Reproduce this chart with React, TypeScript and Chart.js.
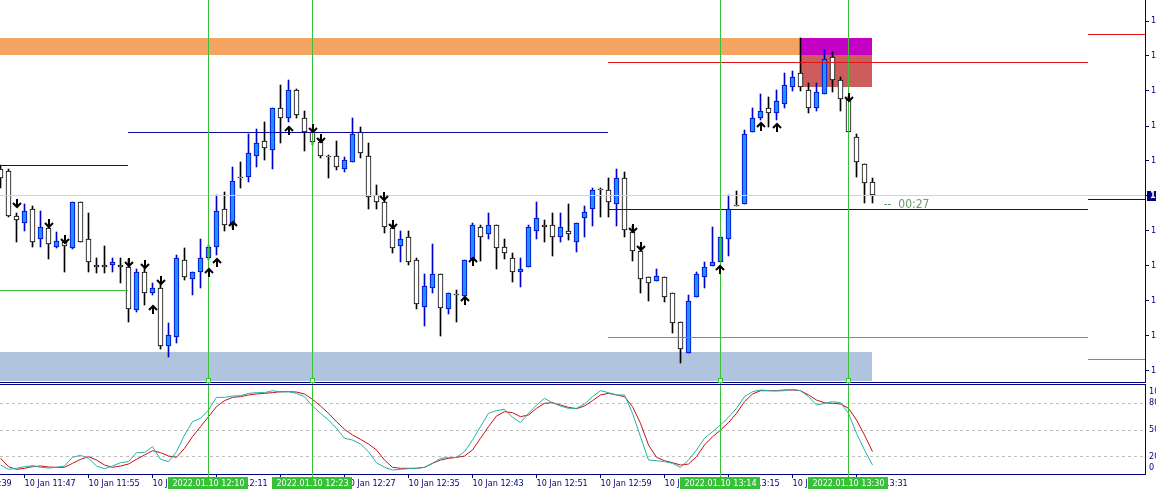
import React, { useEffect, useRef } from "react";
import { Chart, registerables } from "chart.js";

Chart.register(...registerables);

// ---------- DATA ----------
// M1 candles, 10 Jan 2022 11:44 ... 13:33 (bar index 0 .. 109)
const barOpen = [
  1.13212, 1.1321, 1.13165, 1.13158, 1.13172, 1.13142, 1.13153, 1.13134, 1.13139, 1.13133,
  1.13179, 1.13142, 1.13116, 1.13116, 1.13116, 1.13116, 1.13114, 1.13071, 1.13109, 1.13088,
  1.13093, 1.13035, 1.13044, 1.13121, 1.13102, 1.13109, 1.13123, 1.13134, 1.13172, 1.13156,
  1.13203, 1.13204, 1.13225, 1.1324, 1.13231, 1.13273, 1.13263, 1.13291, 1.13263, 1.13249,
  1.13239, 1.13224, 1.13225, 1.13212, 1.13219, 1.13249, 1.13225, 1.13186, 1.13179, 1.13153,
  1.13135, 1.13144, 1.13121, 1.13074, 1.13093, 1.13107, 1.13072, 1.13086, 1.13085, 1.13122,
  1.13154, 1.13147, 1.13156, 1.13134, 1.13123, 1.13109, 1.13114, 1.1315, 1.13156, 1.13156,
  1.13144, 1.1315, 1.13139, 1.13163, 1.13172, 1.13191, 1.13191, 1.13177, 1.13203, 1.13149,
  1.1313, 1.13104, 1.131, 1.13104, 1.13088, 1.13059, 1.13028, 1.13084, 1.13104, 1.13115,
  1.13119, 1.13142, 1.13175, 1.13177, 1.13249, 1.13263, 1.13273, 1.13268, 1.13277, 1.13294,
  1.13308, 1.13291, 1.13273, 1.13287, 1.13324, 1.13301, 1.13282, 1.13244, 1.13217, 1.13199,
];
const barHigh = [
  1.13216, 1.13212, 1.13168, 1.13177, 1.13175, 1.1317, 1.13156, 1.13149, 1.13141, 1.13179,
  1.13179, 1.13168, 1.13123, 1.13135, 1.13123, 1.13123, 1.13122, 1.13112, 1.13113, 1.13098,
  1.13099, 1.13058, 1.13126, 1.13133, 1.13109, 1.13142, 1.13136, 1.13186, 1.13189, 1.13214,
  1.13219, 1.13247, 1.13252, 1.13259, 1.13273, 1.13296, 1.13301, 1.13292, 1.1327, 1.13253,
  1.13243, 1.13226, 1.1324, 1.13224, 1.13263, 1.13254, 1.13238, 1.13196, 1.13183, 1.13157,
  1.1315, 1.1315, 1.13123, 1.13107, 1.13137, 1.13107, 1.13088, 1.13091, 1.13121, 1.13158,
  1.13156, 1.13168, 1.13156, 1.13142, 1.13128, 1.13123, 1.13156, 1.13179, 1.13161, 1.13168,
  1.13168, 1.13177, 1.13158, 1.13175, 1.13193, 1.13193, 1.13203, 1.13212, 1.13209, 1.13155,
  1.13135, 1.13104, 1.13112, 1.13104, 1.13088, 1.13059, 1.13086, 1.13109, 1.13119, 1.13154,
  1.13144, 1.13186, 1.1319, 1.13251, 1.13273, 1.13287, 1.13284, 1.13291, 1.13308, 1.1331,
  1.13343, 1.13298, 1.13298, 1.13331, 1.13329, 1.13304, 1.13285, 1.13247, 1.13217, 1.13203,
];
const barLow = [
  1.13193, 1.13164, 1.13139, 1.1315, 1.13134, 1.13134, 1.13122, 1.13133, 1.13109, 1.13132,
  1.13139, 1.13109, 1.13108, 1.13108, 1.13109, 1.13098, 1.13059, 1.13069, 1.13076, 1.13086,
  1.13032, 1.13024, 1.13038, 1.13101, 1.13086, 1.13093, 1.13121, 1.13126, 1.1315, 1.13153,
  1.13193, 1.13199, 1.13214, 1.13221, 1.13212, 1.13238, 1.13259, 1.13263, 1.1323, 1.13236,
  1.13223, 1.13203, 1.13211, 1.13209, 1.13219, 1.13223, 1.13172, 1.13172, 1.13148, 1.13128,
  1.13119, 1.13116, 1.13072, 1.13055, 1.13088, 1.13045, 1.13067, 1.13059, 1.13083, 1.13122,
  1.1312, 1.13142, 1.13112, 1.13122, 1.13099, 1.13094, 1.13114, 1.13142, 1.13139, 1.13125,
  1.13139, 1.13141, 1.13129, 1.13144, 1.13155, 1.13164, 1.13164, 1.13155, 1.13144, 1.1312,
  1.13088, 1.1308, 1.131, 1.13079, 1.13048, 1.13018, 1.13028, 1.13084, 1.13093, 1.13115,
  1.13119, 1.13125, 1.13175, 1.13177, 1.13249, 1.13261, 1.13254, 1.13261, 1.13273, 1.1329,
  1.1329, 1.13268, 1.1327, 1.13287, 1.13289, 1.1327, 1.13249, 1.13204, 1.13178, 1.13178,
];
const barClose = [
  1.13203, 1.13165, 1.13161, 1.1317, 1.13139, 1.13154, 1.13137, 1.1314, 1.13135, 1.13179,
  1.13139, 1.13119, 1.13114, 1.13114, 1.13119, 1.13114, 1.13072, 1.13109, 1.13088, 1.13093,
  1.13035, 1.13046, 1.13123, 1.13104, 1.13109, 1.13123, 1.13134, 1.1317, 1.13156, 1.132,
  1.13203, 1.13228, 1.13238, 1.13233, 1.13273, 1.13263, 1.13291, 1.13266, 1.13249, 1.13239,
  1.13225, 1.13224, 1.13214, 1.13221, 1.13247, 1.13228, 1.13184, 1.13179, 1.13154, 1.13133,
  1.13142, 1.13119, 1.13077, 1.13095, 1.13107, 1.13073, 1.13088, 1.13086, 1.13121, 1.13156,
  1.13144, 1.13156, 1.13133, 1.13128, 1.13109, 1.13112, 1.13154, 1.13163, 1.13154, 1.13144,
  1.13154, 1.13147, 1.13158, 1.13169, 1.13191, 1.13191, 1.13179, 1.13203, 1.13151, 1.1313,
  1.13102, 1.13098, 1.13105, 1.13084, 1.13058, 1.13032, 1.1308, 1.13107, 1.13114, 1.13119,
  1.13144, 1.13172, 1.13175, 1.13247, 1.13263, 1.1327, 1.13268, 1.1328, 1.13296, 1.13304,
  1.13294, 1.13273, 1.13289, 1.13322, 1.13301, 1.13282, 1.13249, 1.13219, 1.13198, 1.13186,
];

// Stochastic oscillator (main %K and signal %D)
const stochMain = [
  10.1, 5.2, 6.4, 8.2, 9.4, 7.5, 6.7, 7.5, 9.0, 18.7,
  21.0, 17.6, 9.0, 6.0, 9.0, 12.7, 13.9, 24.0, 24.0, 30.7,
  16.5, 13.9, 25.1, 43.8, 58.8, 62.5, 71.9, 86.1, 86.1, 87.6,
  88.0, 90.6, 91.4, 91.4, 93.6, 92.1, 92.5, 90.6, 86.9, 76.4,
  68.2, 60.7, 51.3, 40.1, 38.2, 33.7, 25.1, 12.7, 7.5, 4.5,
  5.2, 6.0, 6.4, 7.5, 12.0, 17.6, 18.4, 18.7, 25.1, 38.2,
  53.2, 68.2, 71.2, 72.7, 63.7, 57.7, 68.2, 77.5, 85.0, 80.1,
  76.4, 73.8, 73.8, 78.7, 86.9, 93.6, 91.4, 88.8, 88.8, 68.2,
  41.9, 15.7, 15.0, 13.9, 12.0, 7.5, 15.7, 27.0, 40.1, 47.6,
  55.1, 63.7, 73.8, 86.9, 92.5, 94.4, 93.6, 93.3, 93.6, 95.1,
  93.6, 86.9, 77.5, 79.4, 81.3, 80.1, 68.2, 45.7, 27.0, 10.1,
];
const stochSignal = [
  17.6, 8.2, 5.2, 6.4, 8.2, 9.0, 7.9, 7.5, 7.5, 12.0,
  16.5, 19.5, 15.7, 10.1, 7.5, 9.0, 11.2, 16.5, 21.3, 26.2,
  24.0, 20.2, 18.7, 28.8, 41.9, 53.2, 64.4, 75.7, 82.4, 86.1,
  86.9, 88.8, 89.9, 90.6, 91.4, 92.5, 92.5, 92.1, 89.9, 83.9,
  76.4, 68.2, 58.8, 50.2, 43.8, 39.0, 33.7, 27.0, 15.7, 7.5,
  6.4, 6.4, 6.4, 7.5, 12.0, 15.7, 17.6, 18.7, 20.2, 27.0,
  40.1, 53.2, 65.2, 70.0, 68.9, 64.4, 66.3, 73.8, 79.4, 80.1,
  77.5, 74.9, 73.4, 76.4, 82.4, 88.8, 90.6, 88.8, 86.9, 75.7,
  56.9, 32.6, 18.7, 15.0, 12.7, 10.1, 11.2, 19.5, 32.6, 41.9,
  49.4, 57.7, 68.2, 81.3, 89.9, 93.6, 93.6, 93.6, 94.4, 94.4,
  93.6, 88.8, 83.1, 80.1, 79.4, 78.7, 73.8, 60.7, 43.8, 25.1,
];
const stochLevels = [20, 50, 80];
const stochAxisValues = [100, 80, 50, 20, 0];
const stochAxisLabels = ["100", "80", "50", "20", "0"];

// Time axis
const timeTickBars = [-5, 3, 11, 19, 27, 35, 43, 51, 59, 67, 75, 83, 91, 99, 107];
const timeTickLabels = [
  "10 Jan 11:39", "10 Jan 11:47", "10 Jan 11:55", "10 Jan 12:03", "10 Jan 12:11",
  "10 Jan 12:19", "10 Jan 12:27", "10 Jan 12:35", "10 Jan 12:43", "10 Jan 12:51",
  "10 Jan 12:59", "10 Jan 13:07", "10 Jan 13:15", "10 Jan 13:23", "10 Jan 13:31",
];

// Price axis ticks
const priceTicks = [
  1.1301, 1.13045, 1.1308, 1.13115, 1.1315, 1.13185, 1.1322, 1.13255, 1.1329, 1.13325, 1.1336,
];
const PRICE_MIN = 1.13;
const PRICE_MAX = 1.13381;

// Supply / demand zones
const zoneFrom = [-8, -8, 100, 100];
const zoneTo = [109, 100, 109, 109];
const zoneTop = [1.13029, 1.13343, 1.13343, 1.13326];
const zoneBottom = [1.1299, 1.13326, 1.13326, 1.13294];

// Hourly pivot levels
const pivotFrom = [-8, 16, 76, 136];
const pivotTo = [16, 76, 136, 150];
const pivotP = [1.13216, 1.13249, 1.13172, 1.13182];
const pivotR1: (number | null)[] = [null, null, 1.13319, 1.13347];
const pivotS1: (number | null)[] = [1.13091, null, 1.13044, 1.13022];

// Vertical time markers
const markerBars = [26, 39, 90, 106];
const markerLabels = ["2022.01.10 12:10", "2022.01.10 12:23", "2022.01.10 13:14", "2022.01.10 13:30"];

// Signal arrows (tip price)
const downArrowBars = [2, 6, 8, 16, 18, 20, 39, 40, 48, 49, 79, 80, 106];
const downArrowPrices = [
  1.13173, 1.13153, 1.13137, 1.13114, 1.13112, 1.13096, 1.13248, 1.13238, 1.1318, 1.13152, 1.13148, 1.1313, 1.13279,
];
const upArrowBars = [19, 26, 27, 29, 36, 58, 59, 90, 95, 97];
const upArrowPrices = [
  1.13076, 1.13113, 1.13123, 1.1316, 1.13255, 1.13085, 1.13124, 1.13116, 1.13259, 1.13258,
];

// Candle timer
const timerBar = 110.4;
const timerPrice = 1.13176;
const timerText = "--  00:27";

// ---------- STYLE ----------
const NAVY = "#000080";
const FONT = '"DejaVu Sans Condensed", "DejaVu Sans", sans-serif';
const BULL_FILL = "#1E90FF";
const BULL_LINE = "#0000CD";
const BEAR_FILL = "#FFFFFF";
const BEAR_LINE = "#000000";
const ZONE_COLORS = ["#B0C4DE", "#F4A460", "#C400C4", "#CD5C5C"];
const PIVOT_P_COLOR = "#0A0A9A";
const PIVOT_R_COLOR = "#E01414";
const PIVOT_S_COLOR = "#3CB83C";
const MARKER_COLOR = "#38C038";
const BID_COLOR = "#D2D2D2";
const STOCH_MAIN_COLOR = "#20B2AA";
const STOCH_SIGNAL_COLOR = "#C81010";

const X_MIN = -0.0625;
const X_MAX = X_MIN + 1145 / 8;

const isBull = (i: number) => barClose[i] > barOpen[i];

function drawArrow(ctx: CanvasRenderingContext2D, cx: number, tip: number, up: boolean) {
  const d = up ? 1 : -1;
  ctx.save();
  ctx.strokeStyle = "#000";
  ctx.lineWidth = 2;
  ctx.lineCap = "butt";
  ctx.beginPath();
  ctx.moveTo(cx, tip + d * 1);
  ctx.lineTo(cx, tip + d * 9);
  ctx.stroke();
  ctx.beginPath();
  ctx.moveTo(cx - 4, tip + d * 5);
  ctx.lineTo(cx, tip + d * 1);
  ctx.lineTo(cx + 4, tip + d * 5);
  ctx.stroke();
  ctx.restore();
}

const mainDecor = {
  id: "mainDecor",
  beforeDatasetsDraw(chart: any) {
    const { ctx, chartArea: a, scales } = chart;
    const x = scales.x;
    const y = scales.y;
    ctx.save();
    ctx.beginPath();
    ctx.rect(a.left, a.top, a.right - a.left, a.bottom - a.top);
    ctx.clip();
    zoneFrom.forEach((f, k) => {
      const x0 = Math.floor(x.getPixelForValue(f));
      const x1 = Math.floor(x.getPixelForValue(zoneTo[k]));
      const y0 = Math.round(y.getPixelForValue(zoneTop[k]));
      const y1 = Math.round(y.getPixelForValue(zoneBottom[k]));
      ctx.fillStyle = ZONE_COLORS[k];
      ctx.fillRect(x0, y0, x1 - x0, y1 - y0);
    });
    ctx.restore();
  },
  afterDatasetsDraw(chart: any) {
    const { ctx, chartArea: a, scales } = chart;
    const x = scales.x;
    const y = scales.y;
    ctx.save();
    ctx.beginPath();
    ctx.rect(a.left, a.top, a.right - a.left, a.bottom - a.top);
    ctx.clip();
    // bid line
    const bidRow = Math.round(y.getPixelForValue(barClose[barClose.length - 1]));
    ctx.fillStyle = BID_COLOR;
    ctx.fillRect(a.left, bidRow, a.right - a.left, 1);
    // pivot lines
    const hline = (p: number | null, k: number, color: string) => {
      if (p === null) return;
      const x0 = Math.floor(x.getPixelForValue(pivotFrom[k]));
      const x1 = Math.floor(x.getPixelForValue(pivotTo[k]));
      const row = Math.round(y.getPixelForValue(p));
      ctx.fillStyle = color;
      ctx.fillRect(x0, row, x1 - x0, 1);
    };
    pivotFrom.forEach((_, k) => {
      hline(pivotP[k], k, PIVOT_P_COLOR);
      hline(pivotR1[k], k, PIVOT_R_COLOR);
      hline(pivotS1[k], k, PIVOT_S_COLOR);
    });
    ctx.restore();
    // vertical markers
    ctx.fillStyle = MARKER_COLOR;
    markerBars.forEach((b) => {
      const col = Math.floor(x.getPixelForValue(b));
      ctx.fillRect(col, 0, 1, chart.height);
    });
    // arrows
    downArrowBars.forEach((b, k) => {
      drawArrow(ctx, Math.round(x.getPixelForValue(b)), Math.round(y.getPixelForValue(downArrowPrices[k])), false);
    });
    upArrowBars.forEach((b, k) => {
      drawArrow(ctx, Math.round(x.getPixelForValue(b)), Math.round(y.getPixelForValue(upArrowPrices[k])), true);
    });
    // timer
    ctx.fillStyle = "#669A6A";
    ctx.font = `12px ${FONT}`;
    ctx.textAlign = "left";
    ctx.textBaseline = "middle";
    ctx.fillText(timerText, x.getPixelForValue(timerBar), y.getPixelForValue(timerPrice));
  },
  afterDraw(chart: any) {
    const { ctx, chartArea: a, scales } = chart;
    const x = scales.x;
    const y = scales.y;
    ctx.save();
    // bottom border
    ctx.fillStyle = NAVY;
    ctx.fillRect(0, a.bottom + 1, a.right + 1, 1);
    // anchor squares of markers
    markerBars.forEach((b) => {
      const col = Math.floor(x.getPixelForValue(b));
      ctx.fillStyle = "#fff";
      ctx.fillRect(col - 2, a.bottom - 3, 5, 5);
      ctx.strokeStyle = MARKER_COLOR;
      ctx.lineWidth = 1;
      ctx.strokeRect(col - 1.5, a.bottom - 2.5, 4, 4);
    });
    // current price box
    const last = barClose[barClose.length - 1];
    const row = Math.round(y.getPixelForValue(last));
    ctx.fillStyle = NAVY;
    ctx.fillRect(a.right + 2, row - 4, 20, 10);
    ctx.fillStyle = "#fff";
    ctx.font = `bold 9px ${FONT}`;
    ctx.textAlign = "left";
    ctx.textBaseline = "middle";
    ctx.fillText(last.toFixed(5), a.right + 5, row + 1);
    ctx.restore();
  },
};

const stochDecor = {
  id: "stochDecor",
  beforeDatasetsDraw(chart: any) {
    const { ctx, chartArea: a, scales } = chart;
    const y = scales.y;
    ctx.save();
    ctx.strokeStyle = "#C0C0C0";
    ctx.lineWidth = 1;
    ctx.setLineDash([3, 3]);
    stochLevels.forEach((v) => {
      const r = Math.round(y.getPixelForValue(v)) + 0.5;
      ctx.beginPath();
      ctx.moveTo(a.left, r);
      ctx.lineTo(a.right, r);
      ctx.stroke();
    });
    ctx.restore();
  },
  afterDatasetsDraw(chart: any) {
    const { ctx, chartArea: a, scales } = chart;
    const x = scales.x;
    ctx.save();
    ctx.fillStyle = MARKER_COLOR;
    markerBars.forEach((b) => {
      const col = Math.floor(x.getPixelForValue(b));
      ctx.fillRect(col, 0, 1, a.bottom + 4);
    });
    ctx.restore();
  },
  afterDraw(chart: any) {
    const { ctx, chartArea: a, scales } = chart;
    const x = scales.x;
    const y = scales.y;
    ctx.save();
    // top border and right axis line
    ctx.fillStyle = NAVY;
    ctx.fillRect(0, a.top - 1, a.right + 1, 1);
    ctx.fillRect(a.right, a.top - 1, 1, a.bottom - a.top + 2);
    // right axis labels
    ctx.font = `9px ${FONT}`;
    ctx.textAlign = "left";
    stochAxisValues.forEach((v, k) => {
      let py = y.getPixelForValue(v);
      if (v === 100) {
        ctx.textBaseline = "top";
        py += 2;
      } else if (v === 0) {
        ctx.textBaseline = "bottom";
        py -= 2;
      } else {
        ctx.textBaseline = "middle";
      }
      ctx.fillStyle = NAVY;
      ctx.fillText(stochAxisLabels[k], a.right + 4, py);
    });
    // marker labels on time axis
    markerBars.forEach((b, k) => {
      const col = Math.floor(x.getPixelForValue(b));
      ctx.fillStyle = MARKER_COLOR;
      ctx.fillRect(col - 40, a.bottom + 3, 80, 12);
      ctx.fillStyle = "#fff";
      ctx.textAlign = "center";
      ctx.textBaseline = "middle";
      ctx.fillText(markerLabels[k], col + 0.5, a.bottom + 9.5);
    });
    ctx.restore();
  },
};

export default function App() {
  const mainRef = useRef<HTMLCanvasElement | null>(null);
  const stochRef = useRef<HTMLCanvasElement | null>(null);

  useEffect(() => {
    document.body.style.margin = "0";
    if (!mainRef.current || !stochRef.current) return;

    const bodies = barOpen.map((o, i) => ({ x: i, y: [o, barClose[i]] }));
    const wicks = barLow.map((l, i) => ({ x: i, y: [l, barHigh[i]] }));

    const mainChart = new Chart(mainRef.current, {
      type: "bar",
      data: {
        datasets: [
          {
            data: bodies as any,
            order: 0,
            grouped: false,
            barThickness: 5,
            borderWidth: 1,
            borderSkipped: false,
            minBarLength: 1,
            backgroundColor: (c: any) => (isBull(c.dataIndex) ? BULL_FILL : BEAR_FILL),
            borderColor: (c: any) => (isBull(c.dataIndex) ? BULL_LINE : BEAR_LINE),
          } as any,
          {
            data: wicks as any,
            order: 1,
            grouped: false,
            barThickness: 1,
            borderWidth: 0,
            backgroundColor: (c: any) => (isBull(c.dataIndex) ? BULL_LINE : BEAR_LINE),
          } as any,
        ],
      },
      options: {
        animation: false,
        responsive: false,
        maintainAspectRatio: false,
        events: [],
        layout: { padding: { left: 0, right: 0, top: 0, bottom: 2 } },
        plugins: { legend: { display: false }, tooltip: { enabled: false } },
        scales: {
          x: {
            type: "linear",
            min: X_MIN,
            max: X_MAX,
            offset: false,
            display: false,
            grid: { offset: false },
          },
          y: {
            type: "linear",
            position: "right",
            min: PRICE_MIN,
            max: PRICE_MAX,
            afterBuildTicks: (s: any) => {
              s.ticks = priceTicks.map((v) => ({ value: v }));
            },
            afterFit: (s: any) => {
              s.width = 11;
              s.paddingTop = 0;
              s.paddingBottom = 0;
            },
            ticks: {
              color: NAVY,
              font: { family: FONT, size: 9 },
              padding: 2,
              autoSkip: false,
              callback: (v: any) => Number(v).toFixed(5),
            },
            grid: { drawOnChartArea: false, color: NAVY, tickColor: NAVY, tickLength: 4 },
            border: { color: NAVY, width: 1 },
          },
        },
      } as any,
      plugins: [mainDecor],
    });

    const stochChart = new Chart(stochRef.current, {
      type: "line",
      data: {
        datasets: [
          {
            data: stochMain.map((v, i) => ({ x: i, y: v })),
            borderColor: STOCH_MAIN_COLOR,
            borderWidth: 1,
            pointRadius: 0,
            tension: 0,
            fill: false,
          },
          {
            data: stochSignal.map((v, i) => ({ x: i, y: v })),
            borderColor: STOCH_SIGNAL_COLOR,
            borderWidth: 1,
            pointRadius: 0,
            tension: 0,
            fill: false,
          },
        ],
      },
      options: {
        animation: false,
        responsive: false,
        maintainAspectRatio: false,
        events: [],
        layout: { padding: { left: 0, right: 0, top: 2, bottom: 0 } },
        plugins: { legend: { display: false }, tooltip: { enabled: false } },
        scales: {
          x: {
            type: "linear",
            min: X_MIN,
            max: X_MAX,
            offset: false,
            afterBuildTicks: (s: any) => {
              s.ticks = timeTickBars.map((v) => ({ value: v }));
            },
            afterFit: (s: any) => {
              s.height = 20;
              s.paddingLeft = 0;
              s.paddingRight = 0;
            },
            ticks: {
              autoSkip: false,
              maxRotation: 0,
              minRotation: 0,
              align: "start",
              padding: 0,
              color: NAVY,
              font: { family: FONT, size: 9 },
              callback: (_v: any, idx: number) => timeTickLabels[idx] ?? "",
            },
            grid: { drawOnChartArea: false, color: NAVY, tickColor: NAVY, tickLength: 4, offset: false },
            border: { color: NAVY, width: 1 },
          },
          y: {
            type: "linear",
            position: "right",
            min: 0,
            max: 100,
            afterBuildTicks: (s: any) => {
              s.ticks = stochAxisValues.map((v) => ({ value: v }));
            },
            afterFit: (s: any) => {
              s.width = 11;
              s.paddingTop = 0;
              s.paddingBottom = 0;
            },
            ticks: { display: false },
            grid: { display: false },
            border: { display: false },
          },
        },
      } as any,
      plugins: [stochDecor],
    });

    return () => {
      mainChart.destroy();
      stochChart.destroy();
    };
  }, []);

  return (
    <div
      style={{
        position: "absolute",
        left: 0,
        top: 0,
        width: 1156,
        height: 494,
        background: "#ffffff",
        overflow: "hidden",
      }}
    >
      <canvas ref={mainRef} width={1156} height={383} style={{ display: "block", width: 1156, height: 383 }} />
      <canvas ref={stochRef} width={1156} height={111} style={{ display: "block", width: 1156, height: 111 }} />
    </div>
  );
}
